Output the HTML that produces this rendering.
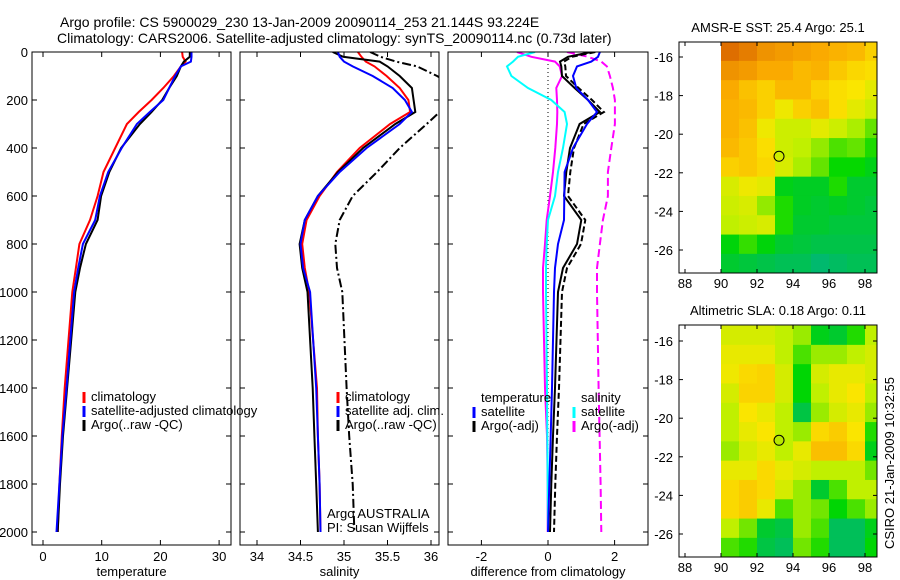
<!DOCTYPE html>
<html><head><meta charset="utf-8"><style>
html,body{margin:0;padding:0;background:#fff;}
svg{display:block;font-family:"Liberation Sans",sans-serif;}
</style></head><body>
<svg id="fig" width="900" height="580" viewBox="0 0 900 580">
<rect width="900" height="580" fill="#fff"/>
<text x="60" y="27" font-size="14">Argo profile: CS 5900029_230 13-Jan-2009 20090114_253 21.144S 93.224E</text>
<text x="57" y="43" font-size="14">Climatology: CARS2006. Satellite-adjusted climatology: synTS_20090114.nc (0.73d later)</text>
<g id="plots"></g>
<text transform="translate(894,463) rotate(-90)" text-anchor="middle" font-size="13">CSIRO 21-Jan-2009 10:32:55</text>
</svg>
<script>
// ---------- data ----------
const depths = [0,20,40,60,100,150,200,250,300,400,500,600,700,800,900,1000,1400,1600,1800,2000];
const tempClim = [23.7,23.8,24.3,23.5,22.3,20.5,18.5,16.3,14.3,12.3,10.3,9.3,8.0,6.2,5.6,5.0,3.7,3.2,2.8,2.5];
const tempSat  = [25.3,25.3,25.2,23.5,22.5,21.5,20.5,18.2,16.0,13.4,11.1,9.7,8.9,6.8,6.0,5.3,4.0,3.3,2.8,2.3];
const tempArgo = [25.0,25.0,24.0,23.5,22.8,21.5,20.3,18.5,16.5,13.3,11.3,9.9,9.3,7.3,6.3,5.5,4.1,3.4,2.9,2.5];
const salClim  = [35.16,35.2,35.25,35.35,35.49,35.64,35.74,35.76,35.53,35.18,34.92,34.72,34.57,34.52,34.55,34.6,34.69,34.7,34.72,34.73];
const salSat   = [34.93,34.95,35.0,35.1,35.33,35.56,35.7,35.78,35.64,35.26,34.95,34.7,34.55,34.5,34.53,34.61,34.68,34.7,34.72,34.73];
const salArgo  = [34.87,34.99,35.41,35.5,35.64,35.78,35.8,35.82,35.59,35.22,34.93,34.7,34.55,34.49,34.52,34.58,34.64,34.66,34.68,34.7];
const salRaw   = [35.3,35.42,35.6,35.84,36.07,36.3,36.35,36.1,35.95,35.64,35.38,35.1,34.95,34.9,34.92,34.98,35.03,35.06,35.1,35.12];
const dTempSat  = [1.56,1.5,1.3,0.87,0.75,0.85,1.2,1.47,1.17,0.75,0.5,0.49,0.48,0.3,0.21,0.18,0.12,0.08,0.04,0.0];
const dTempArgo = [1.3,0.6,0.36,0.4,0.42,0.8,1.2,1.56,0.95,0.66,0.55,0.48,1.0,0.87,0.45,0.3,0.21,0.15,0.1,0.06];
const dSalSat   = [-0.39,-0.9,-1.05,-1.23,-1.1,-0.6,0.1,0.5,0.57,0.45,0.3,0.21,0.0,-0.04,-0.06,-0.06,-0.03,-0.02,-0.01,0.0];
const dSalArgo  = [-0.93,-0.5,0.21,0.35,0.42,0.25,0.27,0.28,0.27,0.22,0.15,0.06,-0.04,-0.09,-0.15,-0.15,-0.09,-0.03,-0.01,-0.01];
const dSalRaw   = [0.57,1.2,1.6,1.77,1.86,1.95,2.01,2.01,2.01,1.9,1.8,1.8,1.65,1.56,1.47,1.47,1.52,1.55,1.58,1.6];
const tempTicks = [0,10,20,30];
const salTicks = [34,34.5,35,35.5,36];
const diffTicks = [-2,0,2];
const depthTicks = [0,200,400,600,800,1000,1200,1400,1600,1800,2000];
const mapLons = [90,91,92,93,94,95,96,97,98];
const mapLats = [-15.2,-16.2,-17.2,-18.2,-19.2,-20.2,-21.2,-22.2,-23.2,-24.2,-25.2,-26.2];
const lonTicks = [88,90,92,94,96,98];
const latTicks = [-16,-18,-20,-22,-24,-26];
const sstGrid = [
 [27.3,27.1,26.8,26.7,26.6,26.5,26.4,26.3,26.0],
 [26.8,26.7,26.5,26.5,26.3,26.4,26.1,25.9,25.8],
 [26.5,26.2,26.0,26.3,26.3,26.0,25.8,25.7,25.5],
 [26.4,26.3,26.0,25.6,26.0,26.2,25.8,25.5,25.3],
 [26.4,26.2,25.6,25.3,25.3,25.5,25.3,25.1,24.8],
 [26.3,26.1,25.8,25.3,25.2,25.0,24.7,24.8,24.5],
 [26.0,26.1,25.9,25.4,25.1,24.8,24.4,24.4,24.2],
 [25.4,25.6,25.5,24.2,24.1,24.1,24.5,24.0,24.0],
 [25.3,25.4,25.0,24.5,24.1,24.0,24.1,24.0,23.9],
 [25.2,25.3,25.4,24.5,24.0,24.0,23.9,23.9,23.9],
 [24.3,24.6,24.3,24.0,23.9,23.8,23.8,23.8,23.8],
 [24.0,23.9,23.8,23.7,23.7,23.5,23.6,23.7,23.7]];
const slaGrid = [
 [0.55,0.55,0.55,0.5,0.45,0.2,0.15,0.3,0.5],
 [0.6,0.6,0.6,0.5,0.35,0.45,0.45,0.5,0.55],
 [0.62,0.7,0.72,0.55,0.25,0.55,0.6,0.6,0.55],
 [0.55,0.72,0.72,0.55,0.25,0.5,0.6,0.65,0.5],
 [0.5,0.65,0.6,0.5,0.1,0.45,0.55,0.6,0.45],
 [0.5,0.6,0.65,0.5,0.45,0.7,0.75,0.65,0.3],
 [0.45,0.55,0.6,0.5,0.6,0.8,0.8,0.7,0.2],
 [0.6,0.6,0.7,0.6,0.55,0.5,0.5,0.5,0.4],
 [0.7,0.75,0.7,0.55,0.45,0.15,0.35,0.5,0.5],
 [0.7,0.75,0.6,0.35,0.45,0.4,0.25,0.35,0.45],
 [0.5,0.4,0.15,0.1,0.45,0.35,0.05,0.05,0.2],
 [0.35,0.3,0.1,0.05,0.4,0.3,0.05,0.05,0.25]];
const argoLon = 93.224, argoLat = -21.144;

// ---------- helpers ----------
const NS="http://www.w3.org/2000/svg";
const root=document.getElementById('plots');
function el(tag,attrs,parent){const e=document.createElementNS(NS,tag);for(const k in attrs)e.setAttribute(k,attrs[k]);(parent||root).appendChild(e);return e;}
function txt(x,y,s,size,anchor,parent){const t=el('text',{x:x,y:y,'font-size':size||13,'text-anchor':anchor||'start'},parent);t.textContent=s;return t;}
const Y=d=>52+0.24*d;
const pTop=52,pBot=545;

function panel(name,x0,x1,xs,ticks,xlabel,series,showDepth){
  const g=el('g',{});
  
  
  const clipId='clip-'+name;
  const cp=el('clipPath',{id:clipId},g);el('rect',{x:x0,y:pTop,width:x1-x0,height:pBot-pTop},cp);
  const lg=el('g',{'clip-path':'url(#'+clipId+')'},g);
  series.forEach(s=>{
    const pts=s.vals.map((v,i)=>xs(v).toFixed(1)+','+Y(depths[i]).toFixed(1)).join(' ');
    const p=el('polyline',{points:pts,fill:'none',stroke:s.color,'stroke-width':s.w||2,'stroke-dasharray':s.dash||'none'},lg);
    
    
  });
  el('rect',{x:x0,y:pTop,width:x1-x0,height:pBot-pTop,fill:'none',stroke:'#000','stroke-width':1},g);
  ticks.forEach(t=>{const x=xs(t);
    el('line',{x1:x,x2:x,y1:pBot,y2:pBot-5,stroke:'#000'},g);el('line',{x1:x,x2:x,y1:pTop,y2:pTop+5,stroke:'#000'},g);
    const lab=txt(x,561,String(t),13,'middle',g);
    
    });
  depthTicks.forEach(d=>{const y=Y(d);
    el('line',{x1:x0,x2:x0+5,y1:y,y2:y,stroke:'#000'},g);el('line',{x1:x1,x2:x1-5,y1:y,y2:y,stroke:'#000'},g);
    if(showDepth){const lab=txt(28,y+5,String(d),13,'end',g);
      
      }});
  const xl=txt((x0+x1)/2,576,xlabel,13,'middle',g);
  
  
  return g;
}
function legend(g,x,y,color,label){
  el('line',{x1:x,x2:x,y1:y-9,y2:y+2,stroke:color,'stroke-width':3},g);
  const t=txt(x+7,y,label,13,'start',g);
  
  
}

// temperature panel
const xsT=v=>43+5.87*v;
const g1=panel('temperature-panel',32,231,xsT,tempTicks,'temperature',[
 {vals:tempClim,color:'#ff0000',name:'temp-climatology-line'},
 {vals:tempArgo,color:'#000',name:'temp-argo-line'},
 {vals:tempSat,color:'#0000ff',name:'temp-satellite-line'}],true);
legend(g1,84,401,'#ff0000','climatology');
legend(g1,84,415,'#0000ff','satellite-adjusted climatology');
legend(g1,84,429,'#000','Argo(..raw -QC)');

// salinity panel
const xsS=v=>257+87*(v-34);
const g2=panel('salinity-panel',240,439,xsS,salTicks,'salinity',[
 {vals:salRaw,color:'#000',name:'sal-argo-raw-line',dash:'9,3,2,3'},
 {vals:salClim,color:'#ff0000',name:'sal-climatology-line'},
 {vals:salArgo,color:'#000',name:'sal-argo-line'},
 {vals:salSat,color:'#0000ff',name:'sal-satellite-line'}],false);
legend(g2,338,401,'#ff0000','climatology');
legend(g2,338,415,'#0000ff','satellite adj. clim.');
legend(g2,338,429,'#000','Argo(..raw -QC)');
const a1=txt(327,518,'Argo AUSTRALIA',13,'start',g2);


const a2=txt(327,532,'PI: Susan Wijffels',13,'start',g2);



// difference panel
const xsD=v=>548+33.3*v;
const g3=panel('difference-panel',448,648,xsD,diffTicks,'difference from climatology',[
 {vals:depths.map(()=>0),color:'#000',name:'zero-line',w:1,dash:'1,3'},
 {vals:dSalRaw,color:'#ff00ff',name:'sal-argo-raw-diff-line',dash:'8,4'},
 {vals:dSalArgo,color:'#ff00ff',name:'sal-argo-diff-line'},
 {vals:dSalSat,color:'#00ffff',name:'sal-satellite-diff-line'},
 {vals:dTempArgo.map(v=>v+0.12),color:'#000',name:'temp-argo-raw-diff-line',dash:'6,3'},
 {vals:dTempArgo,color:'#000',name:'temp-argo-diff-line'},
 {vals:dTempSat,color:'#0000ff',name:'temp-satellite-diff-line'}],false);
const h1=txt(481,402,'temperature',13,'start',g3);


const h2=txt(581,402,'salinity',13,'start',g3);


legend(g3,474,416,'#0000ff','satellite');
legend(g3,474,430,'#000','Argo(-adj)');
legend(g3,574,416,'#00ffff','satellite');
legend(g3,574,430,'#ff00ff','Argo(-adj)');

// maps
function cmap(t){
  t=Math.max(0,Math.min(1,t));
  const stops=[[0,[0,185,110]],[0.22,[0,215,0]],[0.42,[190,240,0]],[0.55,[250,230,0]],[0.75,[250,170,0]],[1,[215,95,0]]];
  for(let i=1;i<stops.length;i++){if(t<=stops[i][0]){const a=stops[i-1],b=stops[i];const f=(t-a[0])/(b[0]-a[0]);
    return 'rgb('+a[1].map((c,k)=>Math.round(c+(b[1][k]-c)*f)).join(',')+')';}}
  return 'rgb(215,95,0)';
}
function drawMap(name,titleStr,bx0,by0,by1,latAt16,grid,norm,circleFill){
  const g=el('g',{});
  
  
  const bx1=877;
  const lx=v=>685+18*(v-88);
  const ly=v=>latAt16+19.3*(-16-v);
  const clipId='clip-'+name;
  const cp=el('clipPath',{id:clipId},g);el('rect',{x:bx0,y:by0,width:bx1-bx0,height:by1-by0},cp);
  const cg=el('g',{'clip-path':'url(#'+clipId+')'},g);
  grid.forEach((row,r)=>row.forEach((v,c)=>{
    const x=lx(mapLons[c]),y=ly(mapLats[r]);
    const cell=el('rect',{x:x,y:y,width:lx(mapLons[c]+1)-x+0.5,height:19.8,fill:cmap(norm(v))},cg);
    
    
  }));
  el('rect',{x:bx0,y:by0,width:bx1-bx0,height:by1-by0,fill:'none',stroke:'#000'},g);
  lonTicks.forEach(t=>{const x=lx(t);
    el('line',{x1:x,x2:x,y1:by1,y2:by1-4,stroke:'#000'},g);el('line',{x1:x,x2:x,y1:by0,y2:by0+4,stroke:'#000'},g);
    const l=txt(x,by1+15,String(t),13,'middle',g);
    
    });
  latTicks.forEach(t=>{const y=ly(t);
    el('line',{x1:bx0,x2:bx0+4,y1:y,y2:y,stroke:'#000'},g);el('line',{x1:bx1,x2:bx1-4,y1:y,y2:y,stroke:'#000'},g);
    const l=txt(bx0-6,y+5,String(t),13,'end',g);
    
    });
  const c=el('circle',{cx:lx(argoLon),cy:ly(argoLat),r:5,fill:circleFill,stroke:'#000','stroke-width':1},g);
  
  
  const t=txt(778,by0-10,titleStr,13,'middle',g);
  
  
}
drawMap('sst-map','AMSR-E SST: 25.4  Argo: 25.1',679,42,273,57,sstGrid,v=>(v-23.5)/4,'none');
drawMap('sla-map','Altimetric SLA: 0.18  Argo: 0.11',679,325,557,341,slaGrid,v=>v*0.85,'#b8e800');
</script>
</body></html>
